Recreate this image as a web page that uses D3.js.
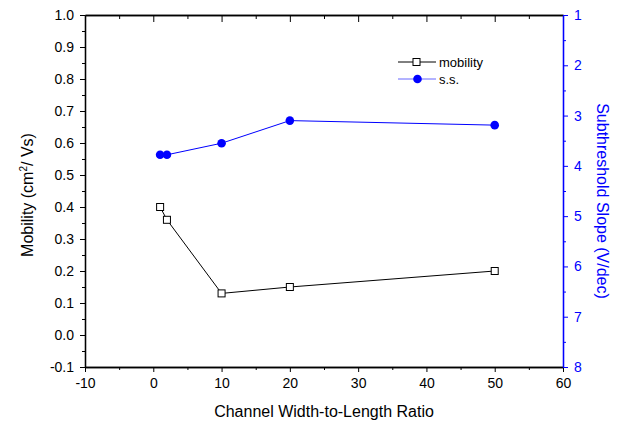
<!DOCTYPE html>
<html>
<head>
<meta charset="utf-8">
<script src="https://cdn.jsdelivr.net/npm/d3@7"></script>
<style>
  body { margin: 0; background: #fff; }
  svg { display: block; font-family: Arial, "Liberation Sans", sans-serif; }
</style>
</head>
<body>
<div id="chart"></div>
<script>
// W/L ratio on x, mobility on left axis, subthreshold slope on right axis
const ratios = [1, 2, 10, 20, 50];
const mobility = [0.40, 0.36, 0.13, 0.15, 0.20];
const subSlope = [3.78, 3.78, 3.55, 3.10, 3.19];

const xMajor = [-10, 0, 10, 20, 30, 40, 50, 60];
const xMinor = [-5, 5, 15, 25, 35, 45, 55];
const yMajor = [-0.1, 0.0, 0.1, 0.2, 0.3, 0.4, 0.5, 0.6, 0.7, 0.8, 0.9, 1.0];
const yMinor = [-0.05, 0.05, 0.15, 0.25, 0.35, 0.45, 0.55, 0.65, 0.75, 0.85, 0.95];
const rMajor = [1, 2, 3, 4, 5, 6, 7, 8];
const rMinor = [1.5, 2.5, 3.5, 4.5, 5.5, 6.5, 7.5];

const width = 621, height = 426;
const margin = { top: 15, right: 58, bottom: 59, left: 85 };
const blue = "#0000ff";

// plain hyphen minus like the original plot
const fmt = f => d => d3.format(f)(d).replace("\u2212", "-");

const svg = d3.select("#chart").append("svg")
    .attr("width", width)
    .attr("height", height);

const x = d3.scaleLinear().domain([-10, 60]).range([margin.left, width - margin.right]);
const yL = d3.scaleLinear().domain([-0.1, 1.0]).range([height - margin.bottom, margin.top]);
const yR = d3.scaleLinear().domain([1, 8]).range([margin.top, height - margin.bottom]);

function styleAxis(g, color) {
    g.selectAll("path").attr("stroke", color).attr("stroke-width", 1.3);
    g.selectAll("line").attr("stroke", color).attr("stroke-width", 1);
    g.selectAll("text").attr("fill", color).style("font-size", "14px");
}

// bottom
svg.append("g")
    .attr("transform", `translate(0, ${yL.range()[0]})`)
    .call(d3.axisBottom(x).tickValues(xMinor).tickSize(3).tickFormat("").tickSizeOuter(0))
    .call(g => styleAxis(g, "#000"));
svg.append("g")
    .attr("transform", `translate(0, ${yL.range()[0]})`)
    .call(d3.axisBottom(x).tickValues(xMajor).tickSize(5).tickPadding(6).tickFormat(fmt("d")).tickSizeOuter(0))
    .call(g => styleAxis(g, "#000"));

// top mirror, ticks pointing in
svg.append("g")
    .attr("transform", `translate(0, ${margin.top})`)
    .call(d3.axisBottom(x).tickValues(xMinor).tickSize(4).tickFormat("").tickSizeOuter(0))
    .call(g => styleAxis(g, "#000"));
svg.append("g")
    .attr("transform", `translate(0, ${margin.top})`)
    .call(d3.axisBottom(x).tickValues(xMajor.slice(1, -1)).tickSize(7).tickFormat("").tickSizeOuter(0))
    .call(g => styleAxis(g, "#000"));

// left
svg.append("g")
    .attr("transform", `translate(${margin.left}, 0)`)
    .call(d3.axisLeft(yL).tickValues(yMinor).tickSize(3).tickFormat("").tickSizeOuter(0))
    .call(g => styleAxis(g, "#000"));
svg.append("g")
    .attr("transform", `translate(${margin.left}, 0)`)
    .call(d3.axisLeft(yL).tickValues(yMajor).tickSize(5).tickPadding(6).tickFormat(fmt(".1f")).tickSizeOuter(0))
    .call(g => styleAxis(g, "#000"));

// right (blue)
const rx = width - margin.right;
svg.append("g")
    .attr("transform", `translate(${rx}, 0)`)
    .call(d3.axisRight(yR).tickValues(rMinor).tickSize(3).tickFormat("").tickSizeOuter(0))
    .call(g => styleAxis(g, blue));
svg.append("g")
    .attr("transform", `translate(${rx}, 0)`)
    .call(d3.axisRight(yR).tickValues(rMajor).tickSize(5).tickPadding(6).tickFormat(fmt("d")).tickSizeOuter(0))
    .call(g => styleAxis(g, blue));

// axis titles
svg.append("text")
    .attr("x", (margin.left + rx) / 2)
    .attr("y", 417)
    .attr("text-anchor", "middle")
    .style("font-size", "16px")
    .text("Channel Width-to-Length Ratio");

const leftTitle = svg.append("text")
    .attr("transform", `translate(33, ${(margin.top + yL.range()[0]) / 2 + 4}) rotate(-90)`)
    .attr("text-anchor", "middle")
    .style("font-size", "16px");
leftTitle.append("tspan").text("Mobility (cm");
leftTitle.append("tspan").attr("dy", -6).style("font-size", "10px").text("2");
leftTitle.append("tspan").attr("dy", 6).text("/ Vs)");

svg.append("text")
    .attr("transform", `translate(597, ${(margin.top + yL.range()[0]) / 2 + 10}) rotate(90)`)
    .attr("text-anchor", "middle")
    .attr("fill", blue)
    .style("font-size", "16px")
    .text("Subthreshold Slope (V/dec)");

// series
const pts = ratios.map((r, i) => ({ r, m: mobility[i], s: subSlope[i] }));

svg.append("path")
    .datum(pts)
    .attr("fill", "none")
    .attr("stroke", "#000")
    .attr("stroke-width", 1)
    .attr("d", d3.line().x(d => x(d.r)).y(d => yL(d.m)));

svg.append("path")
    .datum(pts)
    .attr("fill", "none")
    .attr("stroke", blue)
    .attr("stroke-width", 1)
    .attr("d", d3.line().x(d => x(d.r)).y(d => yR(d.s)));

svg.selectAll(".sq")
    .data(pts)
    .enter().append("rect")
    .attr("class", "sq")
    .attr("x", d => x(d.r) - 3.5)
    .attr("y", d => yL(d.m) - 3.5)
    .attr("width", 7)
    .attr("height", 7)
    .attr("fill", "#fff")
    .attr("stroke", "#000")
    .attr("stroke-width", 1);

svg.selectAll(".dot")
    .data(pts)
    .enter().append("circle")
    .attr("class", "dot")
    .attr("cx", d => x(d.r))
    .attr("cy", d => yR(d.s))
    .attr("r", 4.3)
    .attr("fill", blue);

// legend
const legend = svg.append("g").attr("transform", "translate(398, 62)");
legend.append("line").attr("x1", 0).attr("x2", 38).attr("y1", 0).attr("y2", 0)
    .attr("stroke", "#000");
legend.append("rect").attr("x", 15).attr("y", -3.5).attr("width", 7).attr("height", 7)
    .attr("fill", "#fff").attr("stroke", "#000");
legend.append("text").attr("x", 41).attr("y", 4.5).style("font-size", "13px").text("mobility");

legend.append("line").attr("x1", 0).attr("x2", 38).attr("y1", 17).attr("y2", 17)
    .attr("stroke", blue).attr("stroke-opacity", 0.6);
legend.append("circle").attr("cx", 19.5).attr("cy", 17).attr("r", 4.3).attr("fill", blue);
legend.append("text").attr("x", 41).attr("y", 21.5).style("font-size", "13px").text("s.s.");
</script>
</body>
</html>
